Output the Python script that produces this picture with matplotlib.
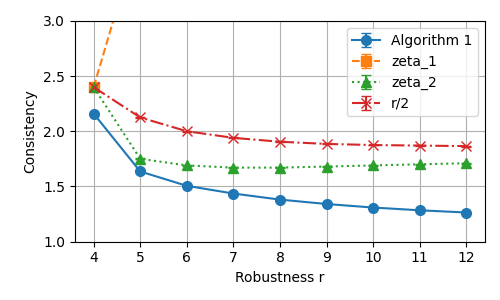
import matplotlib
matplotlib.use("Agg")
from matplotlib import pyplot as plt
import numpy as np

r_values = [4, 5, 6, 7, 8, 9, 10, 11, 12]
alg1 = [2.16, 1.635, 1.505, 1.435, 1.38, 1.34, 1.308, 1.283, 1.263]
zeta_1 = [2.40, 3.83, 5.2, 6.5, 7.8, 9.1, 10.4, 11.7, 13.0]
zeta_2 = [2.40, 1.75, 1.69, 1.67, 1.67, 1.68, 1.69, 1.70, 1.71]
r_half = [2.40, 2.125, 2.0, 1.94, 1.905, 1.885, 1.875, 1.87, 1.865]
err = [0.004] * 9

fig, ax = plt.subplots(figsize=(5, 3), dpi=100)

ax.errorbar(r_values, alg1, yerr=err, fmt='o-', ms=7, capsize=3.5, label='Algorithm 1')
ax.errorbar(r_values, zeta_1, yerr=err, fmt='s--', ms=7, capsize=3.5, label='zeta_1')
ax.errorbar(r_values, zeta_2, yerr=err, fmt='^:', ms=7, capsize=3.5, label='zeta_2')
ax.errorbar(r_values, r_half, yerr=err, fmt='x-.', ms=7, capsize=3.5, label='r/2')

ax.set_ylim(1.0, 3.0)
ax.set_xticks(r_values)
ax.set_yticks([1.0, 1.5, 2.0, 2.5, 3.0])
ax.set_xlabel('Robustness r')
ax.set_ylabel('Consistency')
ax.grid(True)
ax.legend(loc='upper right')

plt.subplots_adjust(left=0.15, right=0.97, top=0.93, bottom=0.195)
plt.savefig('out.png')
